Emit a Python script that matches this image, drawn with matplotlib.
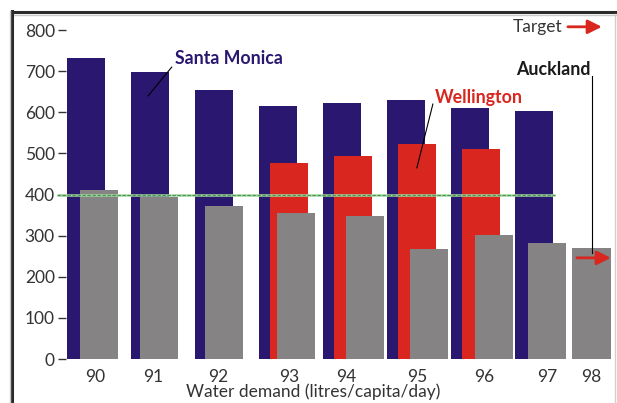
import matplotlib
matplotlib.use('Agg')
import matplotlib.pyplot as plt
from matplotlib.lines import Line2D

plt.rcParams['font.family'] = ['Lato', 'DejaVu Sans']

years = ['90', '91', '92', '93', '94', '95', '96', '97', '98']
santa_monica = [733, 697, 655, 616, 623, 631, 611, 604]   # 90-97
wellington = [477, 494, 523, 511]                         # 93-96
auckland = [411, 394, 372, 355, 347, 267, 301, 281, 271]  # 90-98
target = 400

navy = '#2a1870'
red = '#d9261f'
grey = '#858384'
ink = '#333333'

# bar placement within each year slot
width = 0.6
red_start = 3
red_shift = 0.17
grey_shift = [0.2, 0.14, 0.16, 0.28, 0.36, 0.36, 0.375, 0.2, -0.1]
tick_shift = [0.14, 0.05, 0.06, 0.17, 0.06, 0.17, 0.22, 0.2, -0.1]

fig = plt.figure(figsize=(6.17, 4.03), dpi=100)
ax = fig.add_axes([66 / 617, 44 / 403, 546 / 617, 347 / 403])

ax.bar(range(len(santa_monica)), santa_monica, width, color=navy, zorder=1)
ax.bar([red_start + i + red_shift for i in range(len(wellington))], wellington,
       width, color=red, zorder=2)
ax.bar([i + s for i, s in enumerate(grey_shift)], auckland, width,
       color=grey, zorder=3)

# target line: pale green with darker dashes over it
ax.plot([-0.45, 7.33], [target, target], color='#9fd89a', lw=1.8,
        zorder=4, clip_on=False, solid_capstyle='butt')
ax.plot([-0.45, 7.33], [target, target], color='#3f7a4a', lw=0.8,
        ls=(0, (3, 1.5)), alpha=0.8, zorder=5, clip_on=False)

ax.set_xlim(-0.3125, 8.219)
ax.set_ylim(0, 844)
ax.set_yticks(range(0, 801, 100))
ax.set_xticks([i + s for i, s in enumerate(tick_shift)])
ax.set_xticklabels(years)
ax.tick_params(axis='y', length=6, width=1, color=ink, pad=2,
               labelsize=12.5, labelcolor=ink)
ax.tick_params(axis='x', length=0, pad=7, labelsize=12.5, labelcolor=ink)
for s in ax.spines.values():
    s.set_visible(False)

fig.text(313 / 617, 1 - 392 / 403, 'Water demand (litres/capita/day)',
         ha='center', va='center', fontsize=12.5, color=ink)

# labels with leader lines
ax.text(1.39, 732, 'Santa Monica', color=navy, fontsize=12.8,
        fontweight='bold', va='center', ha='left', zorder=6)
ax.plot([1.34, 0.97], [710, 640], color='black', lw=0.8, zorder=6)

ax.text(5.45, 637, 'Wellington', color=red, fontsize=12.8,
        fontweight='bold', va='center', ha='left', zorder=6)
ax.plot([5.42, 5.17], [620, 465], color='black', lw=0.8, zorder=6)

ax.text(7.88, 703, 'Auckland', color='#1a1a1a', fontsize=12.8,
        fontweight='bold', va='center', ha='right', zorder=6)
ax.plot([7.906, 7.906], [689, 258], color='black', lw=0.8, zorder=6)

arrow = dict(arrowstyle='-|>', color=red, lw=2, mutation_scale=21,
             shrinkA=0, shrinkB=0)
ax.annotate('', xy=(8.2, 246), xytext=(7.67, 246), arrowprops=arrow,
            annotation_clip=False, zorder=7)

ax.text(7.45, 808, 'Target', color=ink, fontsize=12.5, va='center',
        ha='right')
ax.annotate('', xy=(8.06, 808), xytext=(7.53, 808), arrowprops=arrow,
            annotation_clip=False)

# outer frame
fig.add_artist(Line2D([12 / 617, 1], [1 - 12 / 403] * 2, color='#2b2b2b',
                      lw=2.2, transform=fig.transFigure))
fig.add_artist(Line2D([12 / 617, 1], [1 - 14.5 / 403] * 2, color='#c8c8c8',
                      lw=1, transform=fig.transFigure))
fig.add_artist(Line2D([12 / 617] * 2, [0, 1 - 11 / 403], color='#2b2b2b',
                      lw=2.2, transform=fig.transFigure))
fig.add_artist(Line2D([10 / 617] * 2, [0, 1 - 11 / 403], color='#c8c8c8',
                      lw=1, transform=fig.transFigure))
fig.add_artist(Line2D([615 / 617] * 2, [0, 1 - 14 / 403], color='#d0d0d0',
                      lw=1, transform=fig.transFigure))

fig.savefig('out.png', dpi=100)
